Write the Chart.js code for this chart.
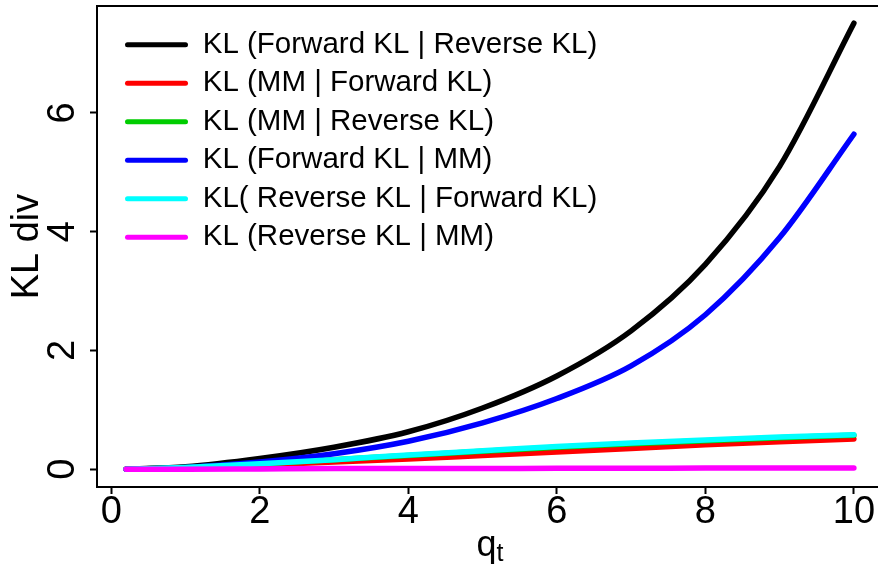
<!DOCTYPE html>
<html>
<head>
<meta charset="utf-8">
<script src="https://cdn.jsdelivr.net/npm/chart.js@4.4.1/dist/chart.umd.min.js"></script>
<style>
  html, body { margin: 0; padding: 0; background: #fff; }
  #wrap { width: 878px; height: 565px; overflow: hidden; }
</style>
</head>
<body>
<div id="wrap"><canvas id="kl" width="890" height="565"></canvas></div>
<script>
// q_t values where the divergences were evaluated
const qt = [0.2, 1, 2, 3, 4, 5, 6, 7, 8, 9, 10];

const klFwdRev = [0, 0.04, 0.18, 0.37, 0.63, 1.03, 1.57, 2.33, 3.45, 5.1, 7.51];
const klMmFwd = [0, 0.02, 0.07, 0.12, 0.17, 0.23, 0.29, 0.35, 0.41, 0.46, 0.51];
const klMmRev = [0, 0.03, 0.09, 0.16, 0.23, 0.3, 0.37, 0.43, 0.48, 0.53, 0.57];
const klFwdMm = [0, 0.03, 0.12, 0.26, 0.47, 0.78, 1.19, 1.74, 2.6, 3.9, 5.64];
const klRevFwd = [0, 0.03, 0.09, 0.16, 0.24, 0.31, 0.38, 0.44, 0.49, 0.54, 0.58];
const klRevMm = [0, 0, 0.005, 0.01, 0.01, 0.01, 0.015, 0.015, 0.02, 0.02, 0.02];

const seriesNames = [
  "KL (Forward KL | Reverse KL)",
  "KL (MM | Forward KL)",
  "KL (MM | Reverse KL)",
  "KL (Forward KL | MM)",
  "KL( Reverse KL | Forward KL)",
  "KL (Reverse KL | MM)",
];
const seriesValues = [klFwdRev, klMmFwd, klMmRev, klFwdMm, klRevFwd, klRevMm];
const seriesColors = ["#000000", "#ff0000", "#00cd00", "#0000ff", "#00ffff", "#ff00ff"];

const xTicks = [0, 2, 4, 6, 8, 10];
const yTicks = [0, 2, 4, 6];

const FONT = '"Liberation Sans", Arial, sans-serif';
Chart.defaults.font.family = FONT;
Chart.defaults.color = "#000";

const datasets = seriesNames.map((name, i) => ({
  label: name,
  data: qt.map((q, j) => ({ x: q, y: seriesValues[i][j] })),
  borderColor: seriesColors[i],
  backgroundColor: seriesColors[i],
  borderWidth: 5.5,
  borderCapStyle: "round",
  borderJoinStyle: "round",
  pointRadius: 0,
  cubicInterpolationMode: "monotone",
  order: seriesNames.length - i, // later series are drawn on top
}));

// frame around the plot, x title with subscript, legend offset
const framePlugin = {
  id: "frame",
  afterLayout(chart) {
    const a = chart.chartArea;
    chart.legend.left = a.left + 19;
    chart.legend.top = a.top + 15;
  },
  afterDraw(chart) {
    const { ctx, chartArea: a } = chart;
    ctx.save();
    ctx.lineWidth = 2;
    ctx.strokeStyle = "#000";
    ctx.strokeRect(a.left, a.top, a.right - a.left, a.bottom - a.top);

    const mid = (a.left + a.right) / 2;
    ctx.fillStyle = "#000";
    ctx.textBaseline = "alphabetic";
    ctx.textAlign = "left";
    ctx.font = "36px " + FONT;
    const wq = ctx.measureText("q").width;
    ctx.font = "25px " + FONT;
    const wt = ctx.measureText("t").width;
    const x0 = mid - (wq + wt) / 2;
    ctx.font = "36px " + FONT;
    ctx.fillText("q", x0, 556);
    ctx.font = "25px " + FONT;
    ctx.fillText("t", x0 + wq, 561);
    ctx.restore();
  },
};

new Chart(document.getElementById("kl"), {
  type: "line",
  data: { datasets },
  plugins: [framePlugin],
  options: {
    responsive: false,
    animation: false,
    devicePixelRatio: 1,
    layout: { padding: { left: 0, top: 6, right: 7, bottom: 0 } },
    scales: {
      x: {
        type: "linear",
        min: -0.192,
        max: 10.392,
        afterBuildTicks: (s) => { s.ticks = xTicks.map((v) => ({ value: v })); },
        afterFit: (s) => { s.height = 78; },
        border: { display: false },
        grid: { display: true, drawOnChartArea: false, drawTicks: true, tickLength: 7, tickWidth: 2, tickColor: "#000" },
        ticks: { font: { size: 38, lineHeight: 1 }, padding: 0, color: "#000", maxRotation: 0 },
      },
      y: {
        type: "linear",
        min: -0.3,
        max: 7.8,
        afterBuildTicks: (s) => { s.ticks = yTicks.map((v) => ({ value: v })); },
        afterFit: (s) => {
          s.width = 97;
          s.paddingTop = 0;
          s.paddingBottom = 0;
        },
        border: { display: false },
        grid: { display: true, drawOnChartArea: false, drawTicks: true, tickLength: 7, tickWidth: 2, tickColor: "#000" },
        ticks: { font: { size: 38, lineHeight: 1 }, padding: 16, color: "#000", minRotation: 90, maxRotation: 90, crossAlign: "center" },
        title: { display: true, text: "KL div", font: { size: 38, lineHeight: 1 }, padding: { top: 9, bottom: 0 }, color: "#000" },
      },
    },
    plugins: {
      tooltip: { enabled: false },
      legend: {
        position: "chartArea",
        align: "start",
        labels: {
          boxWidth: 63,
          boxHeight: 5,
          padding: 9,
          color: "#000",
          font: { size: 29.5 },
          useBorderRadius: true,
          borderRadius: 2.5,
          sort: (a, b) => a.datasetIndex - b.datasetIndex,
          generateLabels: (chart) =>
            Chart.defaults.plugins.legend.labels.generateLabels(chart).map((l) => ({ ...l, lineWidth: 0 })),
        },
      },
    },
  },
});
</script>
</body>
</html>
